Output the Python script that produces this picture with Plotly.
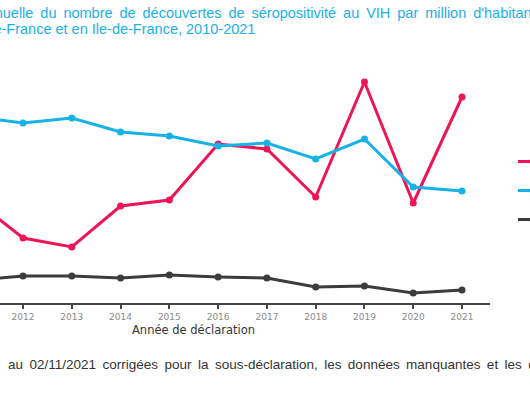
import plotly.graph_objects as go

years = [2010, 2011, 2012, 2013, 2014, 2015, 2016, 2017, 2018, 2019, 2020, 2021]
tick_years = [2012, 2013, 2014, 2015, 2016, 2017, 2018, 2019, 2020, 2021]
region = [100, 113.6, 71.5, 61.6, 106.7, 113.3, 174.9, 169.4, 116.6, 243.1, 110.0, 226.6]
idf = [210, 205.0, 198.0, 203.5, 188.1, 183.7, 172.7, 176.0, 158.4, 180.4, 127.6, 123.2]
hors_idf = [27, 25.0, 29.7, 29.7, 27.5, 30.8, 28.6, 27.5, 17.6, 18.7, 11.0, 14.3]
series_names = ["Région", "Île-de-France", "France hors Île-de-France"]
series_colors = ["#EE1557", "#17B2E6", "#3C3C3C"]

title_line1 = "Évolution annuelle du nombre de découvertes de séropositivité au VIH par million d'habitants, en France,"
title_line2 = "hors Ile-de-France et en Ile-de-France, 2010-2021"
axis_title = "Année de déclaration"
footnote = "au 02/11/2021 corrigées pour la sous-déclaration, les données manquantes et les délais de déclaration."

W, H = 530, 396
ML, MR, MT, MB = 0, 40, 60, 93
PW = W - ML - MR
PH = H - MT - MB

fig = go.Figure()
for name, vals, col in zip(series_names, [region, idf, hors_idf], series_colors):
    fig.add_trace(go.Scatter(
        x=years, y=vals, name=name, legendgroup=name,
        mode="lines+markers",
        line=dict(color=col, width=3),
        marker=dict(color=col, size=7),
        cliponaxis=True,
    ))

def px_x(p):
    return (p - ML) / PW

def px_y(p):
    return (H - MB - p) / PH

def justify(s, pad):
    return s.replace(" ", " " + pad)

annotations = [
    dict(text=justify(title_line1, "\u2009"),
         xref="paper", yref="paper", x=px_x(-90), y=px_y(13), xanchor="left", yanchor="middle",
         showarrow=False, font=dict(family="Liberation Sans, Arial", size=14.5, color="#1BB1E6")),
    dict(text=title_line2,
         xref="paper", yref="paper", x=px_x(257), y=px_y(29), xanchor="right", yanchor="middle",
         showarrow=False, font=dict(family="Liberation Sans, Arial", size=14.5, color="#1BB1E6")),
    dict(text=axis_title,
         xref="paper", yref="paper", x=px_x(193), y=px_y(330), xanchor="center", yanchor="middle",
         showarrow=False, font=dict(family="DejaVu Sans", size=11.5, color="#333333")),
    dict(text=justify(footnote, "\u2009"),
         xref="paper", yref="paper", x=px_x(6), y=px_y(364), xanchor="left", yanchor="middle",
         showarrow=False, font=dict(family="Liberation Sans, Arial", size=13.5, color="#333333")),
]

fig.update_layout(
    width=W, height=H,
    margin=dict(l=ML, r=MR, t=MT, b=MB, autoexpand=False),
    paper_bgcolor="white", plot_bgcolor="white",
    showlegend=True,
    legend=dict(x=px_x(513), y=px_y(147), xanchor="left", yanchor="top",
                tracegroupgap=10, traceorder="grouped",
                font=dict(family="DejaVu Sans", size=12, color="#333333"),
                bgcolor="rgba(0,0,0,0)"),
    annotations=annotations,
    xaxis=dict(range=[2011.528, 2021.574], tickmode="array", tickvals=tick_years,
               ticktext=[str(t) for t in tick_years],
               showline=True, linecolor="#444444", linewidth=2,
               ticks="outside", ticklen=4, tickwidth=1.5, tickcolor="#444444",
               tickfont=dict(family="DejaVu Sans", size=9, color="#8a8a8a"),
               showgrid=False, zeroline=False, fixedrange=True),
    yaxis=dict(range=[0, 267.3], visible=False, showgrid=False, zeroline=False),
)

fig.write_html("out.html", config={"displayModeBar": False},
               post_script="document.body.style.margin='0';document.body.style.overflow='hidden';")
